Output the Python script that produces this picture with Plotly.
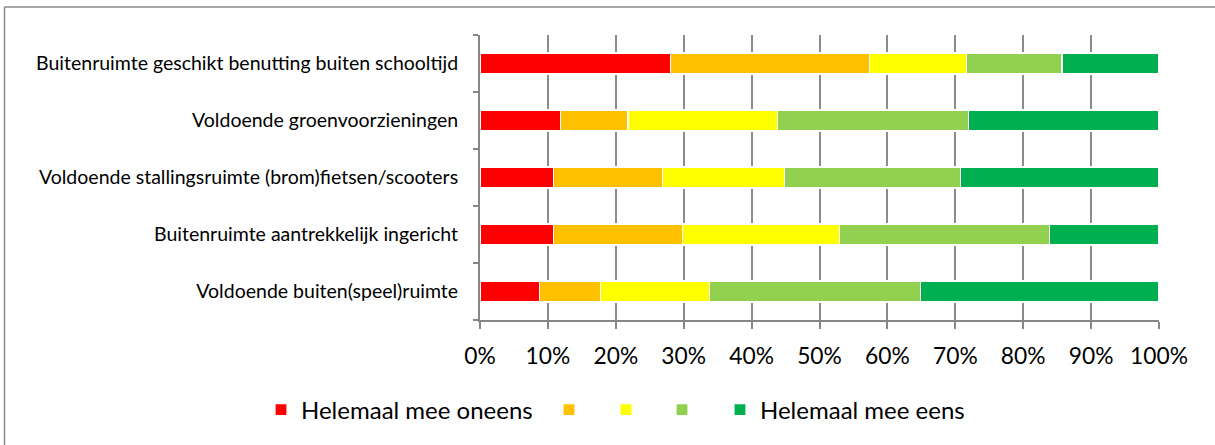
import plotly.graph_objects as go

categories = [
    "Voldoende buiten(speel)ruimte",
    "Buitenruimte aantrekkelijk ingericht",
    "Voldoende stallingsruimte (brom)fietsen/scooters",
    "Voldoende groenvoorzieningen",
    "Buitenruimte geschikt benutting buiten schooltijd",
]
series_names = ["Helemaal mee oneens", "", "", "", "Helemaal mee eens"]
colors = ["#FF0000", "#FFC000", "#FFFF00", "#92D050", "#00B050"]

helemaal_oneens = [8.8, 10.8, 10.8, 11.8, 28.1]
oneens = [9.0, 19.0, 16.1, 10.0, 29.3]
neutraal = [16.0, 23.1, 18.0, 22.0, 14.2]
eens = [31.1, 31.0, 25.9, 28.1, 14.1]
helemaal_eens = [35.1, 16.1, 29.2, 28.1, 14.3]
series_values = [helemaal_oneens, oneens, neutraal, eens, helemaal_eens]

FONT = "Lato"
W, H = 1215, 445
ML, MR, MT, MB = 480, 56, 35, 125
PW, PH = W - ML - MR, H - MT - MB

# legend marker centres (pixels) of each entry
legend_marker_px = [282, 570, 627, 683, 741]

def px2x(p):
    return (p - ML) / PW

def px2y(p):
    return (H - MB - p) / PH

legend_ids = ["legend", "legend2", "legend3", "legend4", "legend5"]

fig = go.Figure()
for name, vals, col, lid in zip(series_names, series_values, colors, legend_ids):
    tot = [v / 100 for v in vals]
    fig.add_trace(go.Bar(
        y=categories, x=tot, name=name, orientation="h",
        marker=dict(color=col, line=dict(color="white", width=1.2)),
        width=0.37, hoverinfo="x+y", legend=lid,
    ))

legend_layout = {}
for lid, mx in zip(legend_ids, legend_marker_px):
    legend_layout[lid] = dict(
        orientation="h", x=px2x(mx - 21), y=px2y(410),
        xanchor="left", yanchor="middle",
        font=dict(size=24, family=FONT), bgcolor="rgba(0,0,0,0)",
    )

fig.update_layout(
    width=W, height=H, barmode="stack",
    margin=dict(l=ML, r=MR, t=MT, b=MB, autoexpand=False),
    paper_bgcolor="white", plot_bgcolor="white",
    font=dict(family=FONT, color="black"),
    showlegend=True,
    xaxis=dict(
        range=[0, 1], dtick=0.1, tick0=0, tickformat=".0%",
        showgrid=True, gridcolor="#8C8C8C", gridwidth=1.5,
        showline=True, linecolor="#868686", linewidth=2,
        ticks="outside", ticklen=7, tickcolor="#868686", tickwidth=1.5,
        tickfont=dict(size=22.8, family=FONT), zeroline=False,
        ticklabelstandoff=8,
        fixedrange=True,
    ),
    yaxis=dict(
        categoryorder="array", categoryarray=categories,
        tickson="boundaries", ticks="outside", ticklen=5,
        tickcolor="#868686", tickwidth=1.5,
        showline=True, linecolor="#868686", linewidth=2,
        showgrid=False, tickfont=dict(size=19.5, family=FONT),
        ticklabelstandoff=16,
        range=[-0.5, 4.5], fixedrange=True,
    ),
    shapes=[
        dict(type="line", xref="paper", yref="paper",
             x0=px2x(4.5), x1=px2x(4.5), y0=px2y(7), y1=px2y(446),
             line=dict(color="#888888", width=1.5)),
        dict(type="line", xref="paper", yref="paper",
             x0=px2x(4.5), x1=px2x(1216), y0=px2y(7), y1=px2y(7),
             line=dict(color="#888888", width=1.5)),
    ],
    **legend_layout,
)

fig.write_html(
    "out.html",
    config={"displayModeBar": False},
    post_script="document.body.style.margin='0';document.body.style.overflow='hidden';",
)
